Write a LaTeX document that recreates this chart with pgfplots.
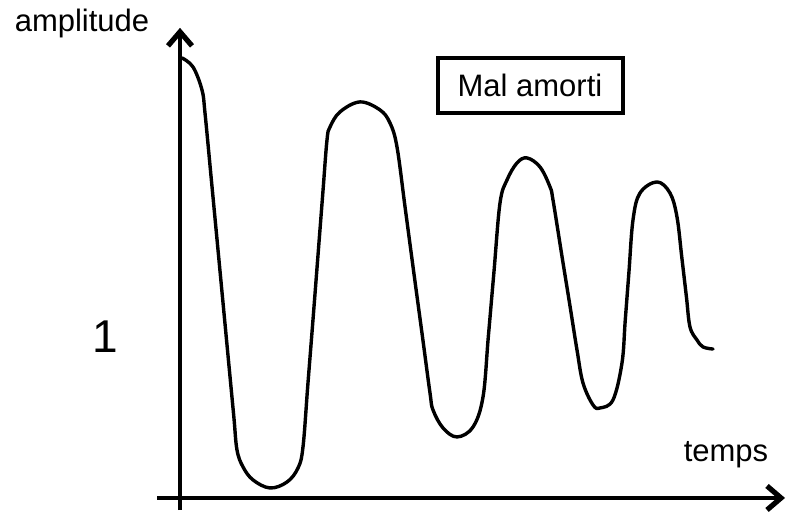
\documentclass[border=0pt]{standalone}
\usepackage{fontspec}
\setmainfont{Liberation Sans}
\usepackage{pgfplots}
\pgfplotsset{compat=1.18}
\usetikzlibrary{arrows.meta}

\begin{document}
\begin{tikzpicture}
\begin{axis}[
    x=50bp, y=80.5bp,
    xmin=-0.23, xmax=6.05,
    ymin=-0.075, ymax=2.92,
    enlargelimits=false,
    axis lines*=middle,
    axis line style={line width=2.3bp, -{Straight Barb[length=7bp,width=12bp,line width=2.6bp]}},
    xtick=\empty, ytick=\empty,
    clip=false,
]
    % amplitude (1 = steady value) versus time
    \addplot[line width=1.7bp, smooth, tension=0.6, line cap=round, line join=round]
    coordinates{
        (0.02,2.733) (0.13,2.677) (0.22,2.534) (0.25,2.391)
        (0.31,2.0) (0.371,1.6) (0.432,1.2) (0.493,0.8) (0.539,0.5)
        (0.57,0.298) (0.63,0.193) (0.73,0.112) (0.90,0.062) (1.07,0.099)
        (1.18,0.186) (1.23,0.317)
        (1.278,0.7) (1.329,1.1) (1.379,1.5) (1.429,1.9)
        (1.47,2.224) (1.50,2.304)
        (1.60,2.398) (1.80,2.460) (2.00,2.410) (2.10,2.329) (2.17,2.180)
        (2.252,1.8) (2.338,1.4) (2.425,1.0)
        (2.50,0.652) (2.53,0.547) (2.63,0.435) (2.77,0.379)
        (2.93,0.441) (3.03,0.627)
        (3.083,1.0) (3.139,1.4)
        (3.20,1.832) (3.27,1.975) (3.37,2.081)
        (3.47,2.112) (3.60,2.056) (3.70,1.932) (3.73,1.851)
        (3.82,1.5) (3.898,1.2)
        (3.97,0.919) (4.03,0.714) (4.13,0.578) (4.20,0.559) (4.33,0.609) (4.42,0.839)
        (4.452,1.1) (4.489,1.4)
        (4.53,1.727) (4.60,1.894) (4.77,1.963) (4.90,1.894) (4.97,1.745)
        (5.017,1.5) (5.064,1.25)
        (5.10,1.062) (5.17,0.981) (5.23,0.938) (5.33,0.925)
    };

    \node[font=\fontsize{15.5bp}{18bp}\selectfont] at (axis cs:-0.98,2.944) {amplitude};
    \node[font=\fontsize{15.5bp}{18bp}\selectfont] at (axis cs:5.46,0.267) {temps};
    \node[font=\fontsize{23bp}{26bp}\selectfont] at (axis cs:-0.75,1) {1};
    \node[draw, line width=2bp, minimum width=92.5bp, minimum height=27.5bp,
          font=\fontsize{15.5bp}{18bp}\selectfont] at (axis cs:3.5,2.562) {Mal amorti};

    % page extent
    \path (axis cs:-1.8,-0.093) rectangle (axis cs:6.15,3.093);
\end{axis}
\end{tikzpicture}
\end{document}
